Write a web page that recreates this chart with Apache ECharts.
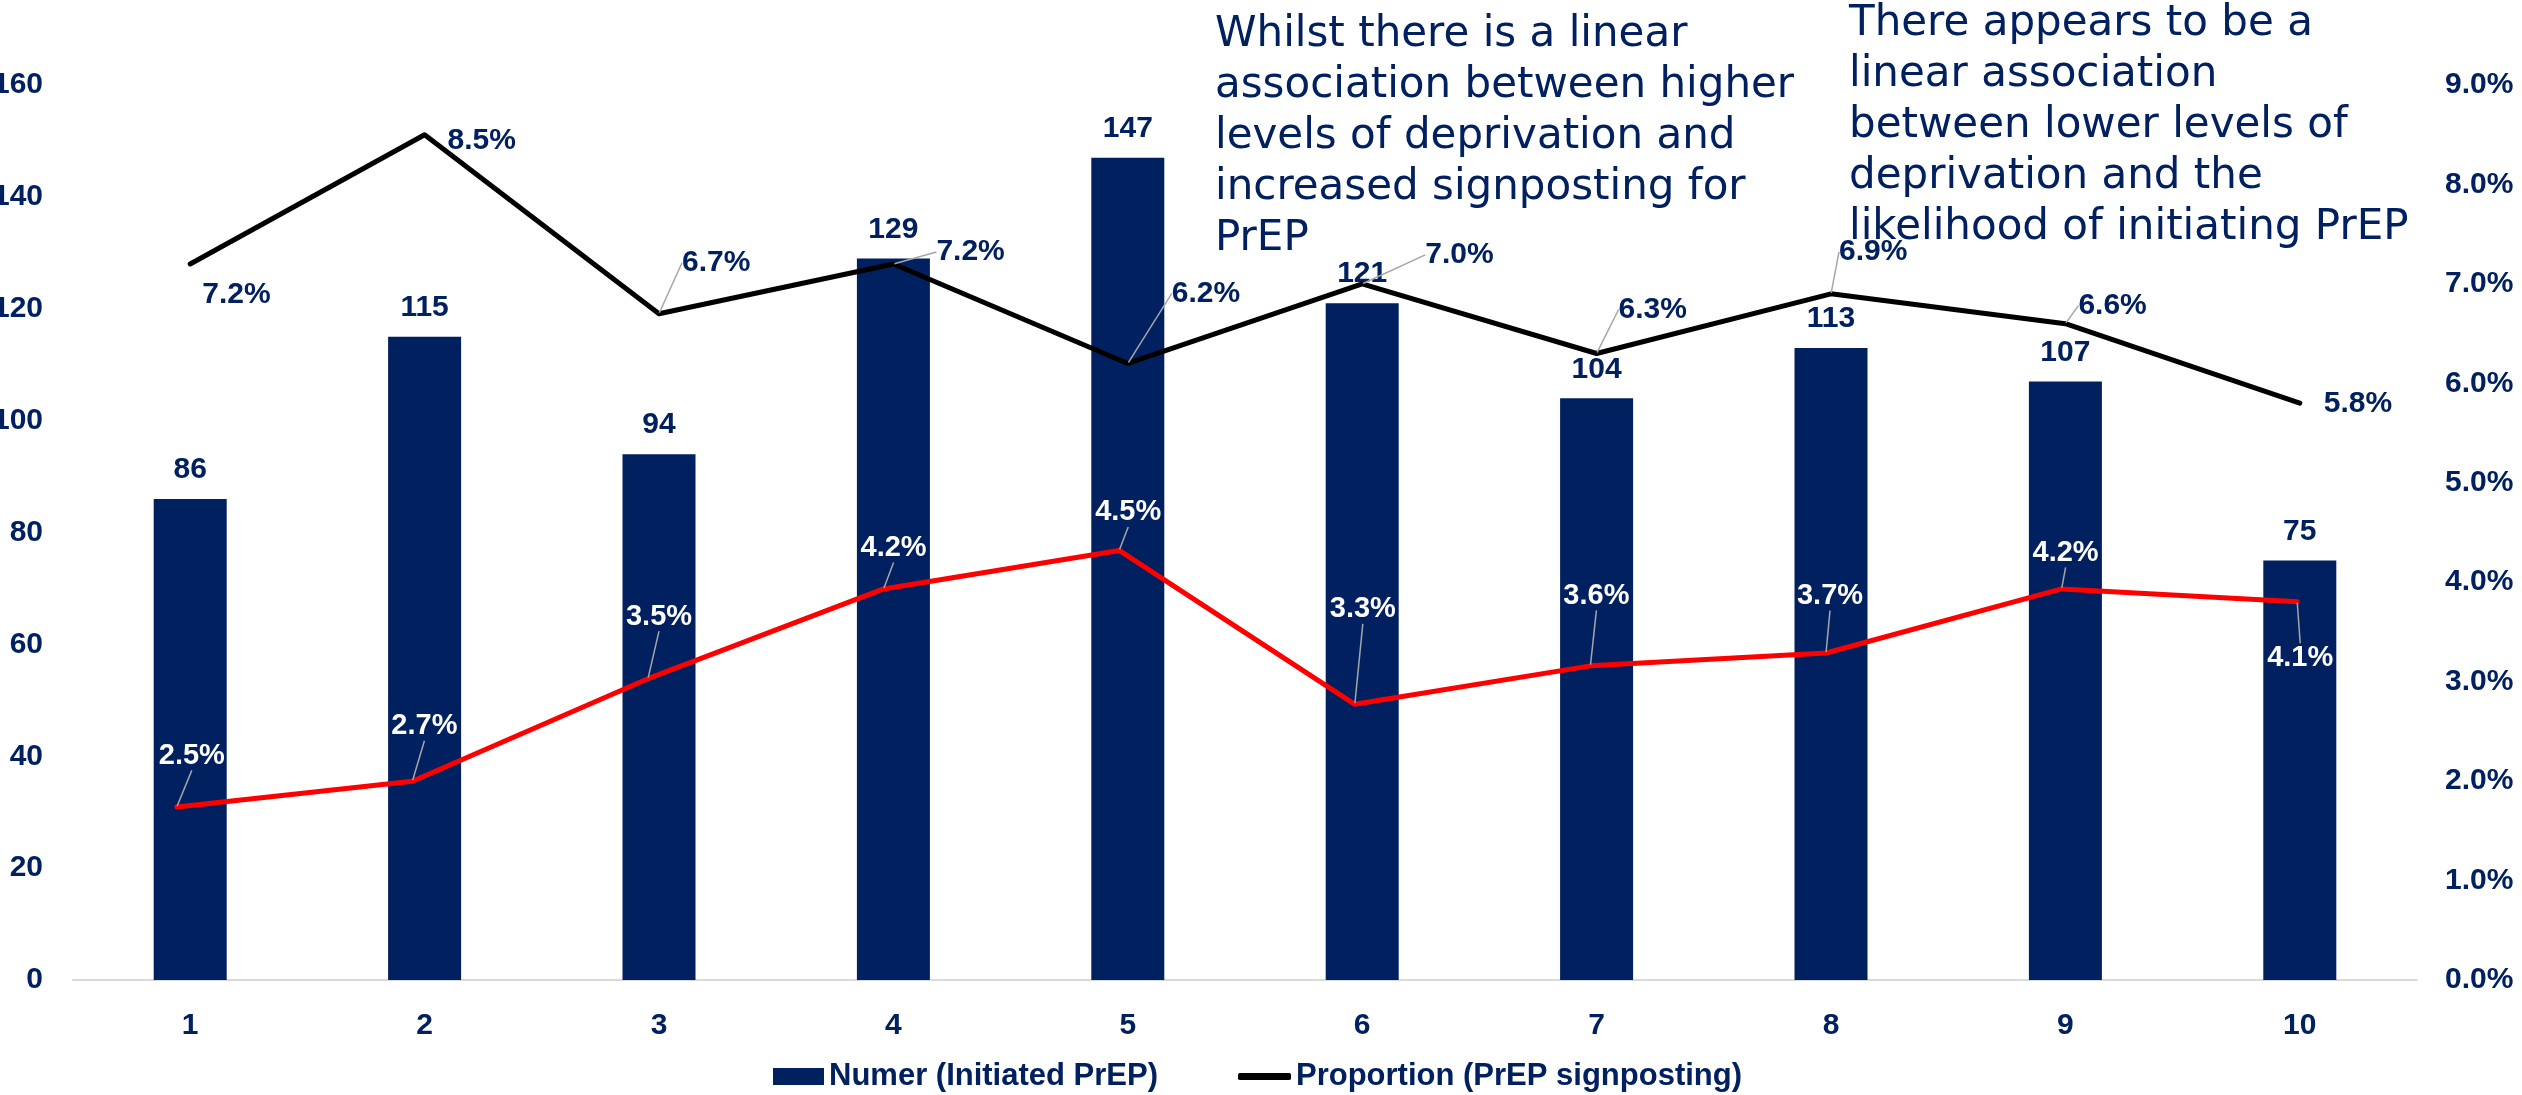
<!DOCTYPE html>
<html>
<head>
<meta charset="utf-8">
<script src="https://cdn.jsdelivr.net/npm/echarts@6/dist/echarts.min.js"></script>
<style>
  html, body { margin: 0; padding: 0; background: #fff; }
  #chart { width: 2522px; height: 1095px; }
</style>
</head>
<body>
<div id="chart"></div>
<script>
// data
const categories = ['1', '2', '3', '4', '5', '6', '7', '8', '9', '10'];
const initiated = [86, 115, 94, 129, 147, 121, 104, 113, 107, 75];
const signposting = [7.2, 8.5, 6.7, 7.2, 6.2, 7.0, 6.3, 6.9, 6.6, 5.8];
const initiatedPct = [2.5, 2.7, 3.5, 4.2, 4.5, 3.3, 3.6, 3.7, 4.2, 4.1];

const leftMax = 160, leftStep = 20;
const rightMax = 9, rightStep = 1;

const NAVY = '#002060';
const FONT = 'Liberation Sans, Arial, sans-serif';

// label placement (px from the point), like the excel labels were dragged
const blackLabelPos = [[12, 31], [23, 6], [23, -51], [43, -12], [44, -70], [63, -29], [22, -44], [8, -42], [13, -18], [24, 1]];
const blackLeader = [false, false, true, true, true, true, true, true, true, false];
const redLabelPos = [[15, -51], [12, -55], [11, -62], [10, -41], [9, -38], [8, -95], [6, -70], [4, -57], [4, -36], [3, 56]];

const chart = echarts.init(document.getElementById('chart'));

const labelFont = { fontFamily: FONT, fontSize: 30, fontWeight: 'bold' };
const legendFont = { fontFamily: FONT, fontSize: 31, fontWeight: 'bold', color: NAVY };

chart.setOption({
  animation: false,
  backgroundColor: '#fff',
  grid: [
    { left: 73, right: 105, top: 85, bottom: 115, outerBoundsMode: 'none' },
    { left: 59, right: 107, top: 85, bottom: 115, outerBoundsMode: 'none' }
  ],
  legend: [
    {
      data: ['Numer (Initiated PrEP)'],
      left: 768, top: 1056,
      itemWidth: 51, itemHeight: 17,
      icon: 'rect',
      textStyle: legendFont
    },
    {
      data: ['Proportion (PrEP signposting)'],
      left: 1233, top: 1056,
      itemWidth: 53, itemHeight: 7,
      icon: 'roundRect',
      textStyle: legendFont
    }
  ],
  xAxis: [
    {
      type: 'category',
      gridIndex: 0,
      data: categories,
      axisLine: { lineStyle: { color: '#D9D9D9', width: 2 } },
      axisTick: { show: false },
      axisLabel: Object.assign({ color: NAVY, margin: 31 }, labelFont)
    },
    { type: 'category', gridIndex: 1, data: categories, show: false }
  ],
  yAxis: [
    {
      type: 'value',
      gridIndex: 0,
      min: 0, max: leftMax, interval: leftStep,
      axisLine: { show: false },
      axisTick: { show: false },
      splitLine: { show: false },
      axisLabel: Object.assign({ color: NAVY, margin: 30 }, labelFont)
    },
    {
      type: 'value',
      gridIndex: 0,
      position: 'right',
      min: 0, max: rightMax, interval: rightStep,
      axisLine: { show: false },
      axisTick: { show: false },
      splitLine: { show: false },
      axisLabel: Object.assign({
        color: NAVY, margin: 28,
        formatter: (v) => v.toFixed(1) + '%'
      }, labelFont)
    },
    {
      // hidden scale the red line sits on
      type: 'value', gridIndex: 1, min: 1.15, max: 8.13, show: false, splitLine: { show: false }
    }
  ],
  series: [
    {
      name: 'Numer (Initiated PrEP)',
      type: 'bar',
      xAxisIndex: 0, yAxisIndex: 0,
      data: initiated,
      barWidth: 73,
      itemStyle: { color: NAVY },
      label: Object.assign({ show: true, position: 'top', distance: 14, color: NAVY }, labelFont),
      emphasis: { disabled: true }
    },
    {
      name: 'Proportion (PrEP signposting)',
      type: 'line',
      xAxisIndex: 0, yAxisIndex: 1,
      data: signposting.map((v, i) => ({ value: v, labelLine: { show: blackLeader[i] } })),
      symbol: 'circle', symbolSize: 2,
      itemStyle: { color: '#000' },
      lineStyle: { color: '#000', width: 5, cap: 'round', join: 'round' },
      z: 3,
      label: Object.assign({
        show: true, color: NAVY,
        formatter: (p) => p.value.toFixed(1) + '%'
      }, labelFont),
      labelLine: { show: true, lineStyle: { color: '#A6A6A6', width: 1.5 } },
      labelLayout: function (p) {
        const o = blackLabelPos[p.dataIndex];
        return {
          x: p.rect.x + p.rect.width / 2 + o[0],
          y: p.rect.y + p.rect.height / 2 + o[1],
          align: 'left', verticalAlign: 'middle'
        };
      },
      emphasis: { disabled: true }
    },
    {
      name: 'Initiated %',
      type: 'line',
      xAxisIndex: 1, yAxisIndex: 2,
      data: initiatedPct,
      symbol: 'circle', symbolSize: 2,
      itemStyle: { color: '#FF0000' },
      lineStyle: { color: '#FF0000', width: 5, cap: 'round', join: 'round' },
      z: 3,
      label: {
        show: true, color: '#fff',
        fontFamily: FONT, fontSize: 29, fontWeight: 'bold',
        formatter: (p) => p.value.toFixed(1) + '%'
      },
      labelLine: { show: true, lineStyle: { color: '#A6A6A6', width: 1.5 } },
      labelLayout: function (p) {
        const o = redLabelPos[p.dataIndex];
        return {
          x: p.rect.x + p.rect.width / 2 + o[0],
          y: p.rect.y + p.rect.height / 2 + o[1],
          align: 'center', verticalAlign: 'middle'
        };
      },
      emphasis: { disabled: true }
    }
  ],
  graphic: [
    {
      type: 'text', left: 1215, top: 10,
      style: {
        text: 'Whilst there is a linear\nassociation between higher\nlevels of deprivation and\nincreased signposting for\nPrEP',
        fontFamily: 'DejaVu Sans', fontSize: 42, lineHeight: 51, fill: NAVY
      }
    },
    {
      type: 'text', left: 1849, top: -1,
      style: {
        text: 'There appears to be a\nlinear association\nbetween lower levels of\ndeprivation and the\nlikelihood of initiating PrEP',
        fontFamily: 'DejaVu Sans', fontSize: 42, lineHeight: 51, fill: NAVY
      }
    }
  ]
});

window.onresize = function () {
  chart.resize();
};
</script>
</body>
</html>
